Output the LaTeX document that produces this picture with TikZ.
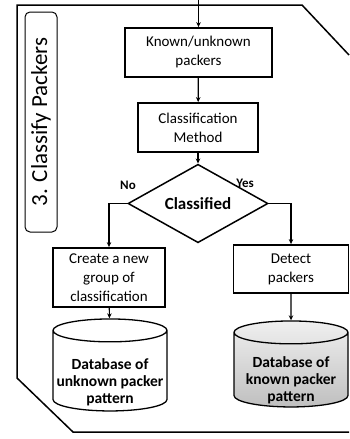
\documentclass[tikz,border=0pt]{standalone}
\usepackage{fontspec}
\setmainfont{Carlito}
\usetikzlibrary{shapes.geometric, arrows.meta}

\begin{document}
\begin{tikzpicture}[x=1pt, y=-1pt,
  stepbox/.style={draw, line width=1.8pt, align=center, inner sep=0pt,
    font=\fontsize{15}{19}\selectfont},
  dbase/.style={draw, cylinder, shape border rotate=90, aspect=0.22,
    line width=1.3pt, inner sep=0pt, text width=104pt},
  dbtext/.style={align=center, inner sep=0pt, font=\bfseries\fontsize{15.5}{17}\selectfont},
  arr/.style={line width=1.2pt, -{Stealth[length=5pt, width=4.5pt]}},
  answer/.style={font=\bfseries\fontsize{13}{15}\selectfont}]
\useasboundingbox (0,0) rectangle (349,439);
% outer frame of the stage
\draw[line width=1.5pt] (349,55) -- (302,5) -- (17,5) -- (17,378) -- (73,432) -- (349,432);
\node[draw, line width=1pt, rounded corners=5pt, rotate=90, minimum width=220pt,
  minimum height=32pt, font=\fontsize{23}{25}\selectfont] (stage) at (41,122) {3. Classify Packers};

\coordinate (in) at (198.5,0);
\node[stepbox, minimum width=147pt, minimum height=49pt] (known) at (198.5,52.5) {Known/unknown\\packers};
\node[stepbox, minimum width=120pt, minimum height=49pt] (method) at (198,127.5) {Classification\\Method};
\node[draw, diamond, line width=1.5pt, minimum width=140pt, minimum height=47pt, inner sep=0pt,
  font=\bfseries\fontsize{17}{19}\selectfont] (cls) at (198,203.5) {Classified};
\node[stepbox, minimum width=112pt, minimum height=59pt] (create) at (109,277.5) {Create a new\\group of\\classification};
\node[stepbox, minimum width=115pt, minimum height=48pt] (detect) at (291,269) {Detect\\packers};
\node[dbase, minimum width=114pt, minimum height=92pt, fill=white] (unk) at (110,371) {};
\node[dbase, minimum width=114pt, minimum height=86pt, top color=gray!12, bottom color=gray!50] (kno) at (291,370) {};
\node[dbtext] (unktext) at ([yshift=-11pt]unk.center) {Database of\\unknown packer\\pattern};
\node[dbtext] (knotext) at ([yshift=-10pt]kno.center) {Database of\\known packer\\pattern};
\node[answer] (no) at (128,185) {No};
\node[answer] (yes) at (245,183) {Yes};

\draw[arr] (in) -- (known);
\draw[arr] (known) -- (method);
\draw[arr] (method) -- (cls);
\draw[arr] (cls.west) -| (create.north);
\draw[arr] (cls.east) -| (detect.north);
\draw[arr] (create) -- (unk);
\draw[arr] (detect) -- (kno);
\end{tikzpicture}
\end{document}
